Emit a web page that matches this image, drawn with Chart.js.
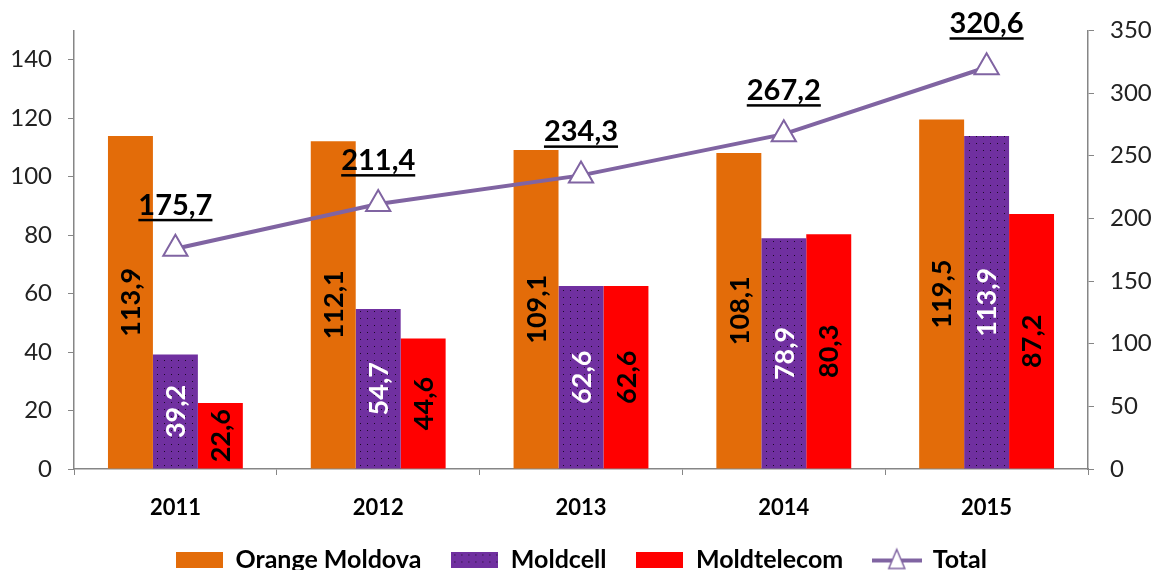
<!DOCTYPE html>
<html lang="ro">
<head>
    <meta charset="UTF-8">
    <title>Orange Moldova, Moldcell, Moldtelecom</title>
    <style>
        html, body { margin: 0; padding: 0; background: #fff; }
        #wrap { width: 1163px; height: 570px; }
    </style>
    <script src="https://cdn.jsdelivr.net/npm/chart.js"></script>
</head>
<body>
    <div id="wrap"><canvas id="grafic"></canvas></div>

    <script>
        // date
        const ani = ['2011', '2012', '2013', '2014', '2015'];
        const orangeMoldova = [113.9, 112.1, 109.1, 108.1, 119.5];
        const moldcell = [39.2, 54.7, 62.6, 78.9, 113.9];
        const moldtelecom = [22.6, 44.6, 62.6, 80.3, 87.2];
        const total = [175.7, 211.4, 234.3, 267.2, 320.6];

        const FONT = 'Lato, "Open Sans", sans-serif';
        const MOV = '#8064A2';

        // model cu puncte pentru Moldcell
        function patternPuncte() {
            const c = document.createElement('canvas');
            c.width = 7; c.height = 7;
            const x = c.getContext('2d');
            x.fillStyle = '#7030A0';
            x.fillRect(0, 0, 7, 7);
            x.fillStyle = '#1a0a26';
            x.fillRect(3, 3, 1, 1);
            return document.createElement('canvas').getContext('2d').createPattern(c, 'repeat');
        }
        const puncte = patternPuncte();

        // iconite pentru legenda
        function iconBara(fill) {
            const c = document.createElement('canvas');
            c.width = 47; c.height = 16;
            const x = c.getContext('2d');
            x.fillStyle = fill;
            x.fillRect(0, 0, 47, 16);
            return c;
        }
        function iconLinie() {
            const c = document.createElement('canvas');
            c.width = 50; c.height = 26;
            const x = c.getContext('2d');
            x.strokeStyle = MOV;
            x.lineWidth = 4;
            x.beginPath(); x.moveTo(0, 14); x.lineTo(50, 14); x.stroke();
            x.fillStyle = '#fff';
            x.lineWidth = 1.5;
            x.beginPath(); x.moveTo(25, 3); x.lineTo(33, 22); x.lineTo(17, 22); x.closePath();
            x.fill(); x.stroke();
            return c;
        }

        const fmt = v => v.toFixed(1).replace('.', ',');

        // etichete pe bare si pe linie
        const eticheteValori = {
            id: 'eticheteValori',
            afterDatasetsDraw(chart) {
                const ctx = chart.ctx;
                chart.data.datasets.forEach((ds, i) => {
                    const meta = chart.getDatasetMeta(i);
                    meta.data.forEach((el, j) => {
                        const txt = fmt(ds.data[j]);
                        ctx.save();
                        if (ds.type === 'bar') {
                            ctx.font = 'bold 27px ' + FONT;
                            ctx.fillStyle = ds.culoareText;
                            ctx.translate(el.x, (el.y + el.base) / 2);
                            ctx.rotate(-Math.PI / 2);
                            ctx.textAlign = 'center';
                            ctx.textBaseline = 'middle';
                            ctx.fillText(txt, 0, 1);
                        } else {
                            ctx.font = 'bold 29px ' + FONT;
                            ctx.fillStyle = '#000';
                            ctx.textAlign = 'center';
                            ctx.textBaseline = 'alphabetic';
                            const y = el.y - 34;
                            ctx.fillText(txt, el.x, y);
                            const w = ctx.measureText(txt).width;
                            ctx.fillRect(el.x - w / 2, y + 4, w, 2.5);
                        }
                        ctx.restore();
                    });
                });
            }
        };

        const ctx = document.getElementById('grafic').getContext('2d');
        new Chart(ctx, {
            data: {
                labels: ani,
                datasets: [
                    {
                        type: 'bar',
                        label: 'Orange Moldova',
                        data: orangeMoldova,
                        backgroundColor: '#E36C09',
                        culoareText: '#000',
                        order: 1
                    },
                    {
                        type: 'bar',
                        label: 'Moldcell',
                        data: moldcell,
                        backgroundColor: puncte,
                        culoareText: '#fff',
                        order: 1
                    },
                    {
                        type: 'bar',
                        label: 'Moldtelecom',
                        data: moldtelecom,
                        backgroundColor: '#FF0000',
                        culoareText: '#000',
                        order: 1
                    },
                    {
                        type: 'line',
                        label: 'Total',
                        data: total,
                        yAxisID: 'y1',
                        borderColor: MOV,
                        borderWidth: 4,
                        pointStyle: 'triangle',
                        pointRadius: 14,
                        pointBackgroundColor: '#fff',
                        pointBorderColor: MOV,
                        pointBorderWidth: 2,
                        order: 0
                    }
                ]
            },
            options: {
                responsive: true,
                maintainAspectRatio: false,
                animation: false,
                datasets: {
                    bar: { categoryPercentage: 0.665, barPercentage: 1 }
                },
                layout: { padding: { top: 30, left: 0, right: 0, bottom: -12 } },
                scales: {
                    x: {
                        grid: { drawOnChartArea: false, offset: true, tickLength: 6, color: '#868686' },
                        border: { color: '#868686', width: 1.5 },
                        ticks: { color: '#000', font: { family: FONT, size: 22, weight: 'bold' }, padding: 20 },
                        afterFit(s) { s.height = 48; }
                    },
                    y: {
                        position: 'left',
                        min: 0,
                        max: 150,
                        grid: { drawOnChartArea: false, tickLength: 6, color: '#868686' },
                        border: { color: '#868686', width: 1.5 },
                        ticks: { stepSize: 20, includeBounds: false, color: '#222', font: { family: FONT, size: 24 }, padding: 16 },
                        afterFit(s) { s.width = 74; }
                    },
                    y1: {
                        position: 'right',
                        min: 0,
                        max: 350,
                        grid: { drawOnChartArea: false, tickLength: 6, color: '#868686' },
                        border: { color: '#868686', width: 1.5 },
                        ticks: { stepSize: 50, color: '#222', font: { family: FONT, size: 24 }, padding: 16 },
                        afterFit(s) { s.width = 75; }
                    }
                },
                plugins: {
                    tooltip: { enabled: false },
                    legend: {
                        position: 'bottom',
                        labels: {
                            usePointStyle: true,
                            pointStyleWidth: 47,
                            padding: 30,
                            color: '#000',
                            font: { family: FONT, size: 25, weight: 'bold' },
                            generateLabels(chart) {
                                const icons = [iconBara('#E36C09'), iconBara(puncte), iconBara('#FF0000'), iconLinie()];
                                return chart.data.datasets.map((ds, i) => ({
                                    text: ds.label,
                                    pointStyle: icons[i],
                                    fillStyle: 'transparent',
                                    strokeStyle: 'transparent',
                                    lineWidth: 0,
                                    fontColor: '#000',
                                    datasetIndex: i
                                }));
                            }
                        }
                    }
                }
            },
            plugins: [eticheteValori]
        });
    </script>
</body>
</html>
